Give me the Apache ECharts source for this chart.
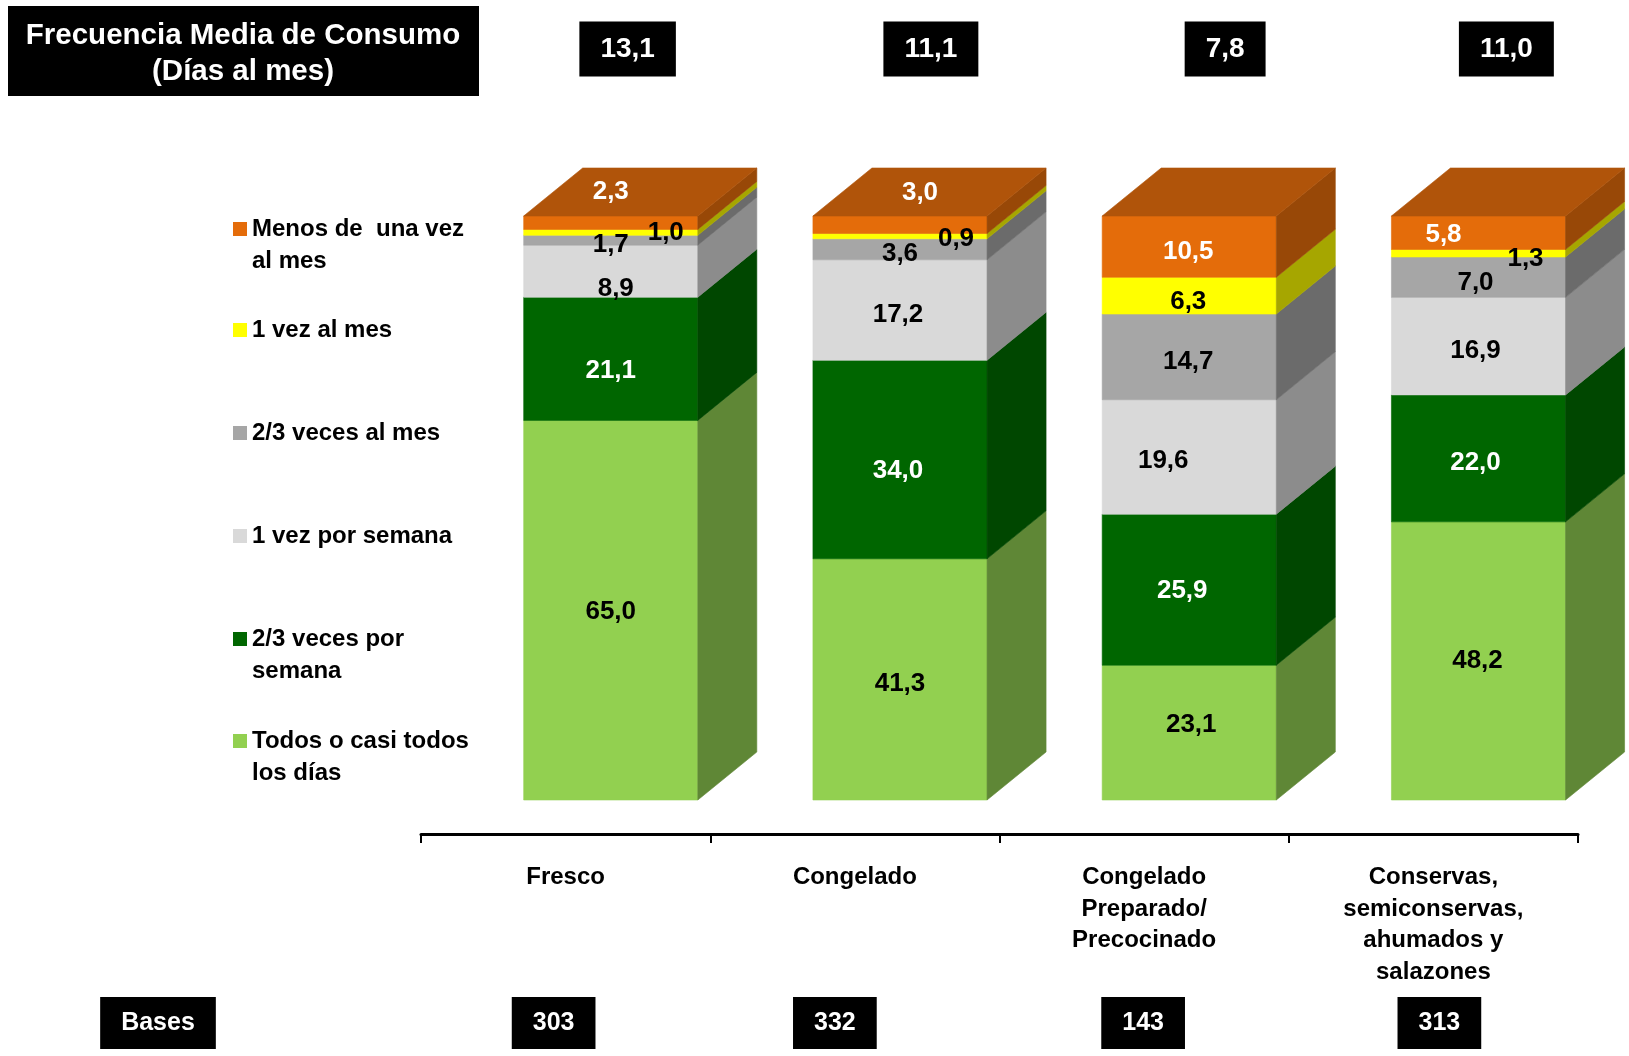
<!DOCTYPE html>
<html><head><meta charset="utf-8">
<script src="https://cdn.jsdelivr.net/npm/echarts@6/dist/echarts.min.js"></script>
<style>html,body{margin:0;padding:0;background:#fff}#c{width:1629px;height:1056px}</style>
</head><body><div id="c"></div>
<script>
// ---------- data ----------
const categories = ['Fresco', 'Congelado', 'Congelado\nPreparado/\nPrecocinado', 'Conservas,\nsemiconservas,\nahumados y\nsalazones'];
const seriesNames = ['Todos o casi todos los días', '2/3 veces por semana', '1 vez por semana', '2/3 veces al mes', '1 vez al mes', 'Menos de una vez al mes'];
const legendTexts = ['Todos o casi todos\nlos días', '2/3 veces por\nsemana', '1 vez por semana', '2/3 veces al mes', '1 vez al mes', 'Menos de  una vez\nal mes'];
const todos      = [65.0, 41.3, 23.1, 48.2];
const semana23   = [21.1, 34.0, 25.9, 22.0];
const semana1    = [8.9, 17.2, 19.6, 16.9];
const mes23      = [1.7, 3.6, 14.7, 7.0];
const mes1       = [1.0, 0.9, 6.3, 1.3];
const menos      = [2.3, 3.0, 10.5, 5.8];
const frecuencia = ['13,1', '11,1', '7,8', '11,0'];
const basesVals  = ['303', '332', '143', '313'];

// ---------- styles ----------
const FONT = "'Liberation Sans', Arial, sans-serif";
const frontC = ['#92D050', '#006600', '#D9D9D9', '#A6A6A6', '#FFFF00', '#E46C0A'];
const sideC  = ['#5F8736', '#004700', '#8C8C8C', '#6B6B6B', '#A6A600', '#984807'];
const topC   = '#B0540A';
const labelWhite = [false, true, false, false, false, true];
// label nudges [dx, dy] in px relative to segment front centre, per series, per category
const labelNudge = [
  [[0, 2], [0, 4], [2, -8], [-1, 0]],
  [[0, 12], [-2, 11], [-7, 1], [-3, 4]],
  [[5, 18], [-2, 5], [-26, 4], [-3, 5]],
  [[0, 5], [0, 5], [-1, 5], [-3, 6]],
  [[55, 0], [56, 3], [-1, 6], [47, 6]],
  [[0, -31], [20, -32], [-1, 5], [-35, 2]]
];
const legendCenterY = [741, 639, 536, 433, 330, 229];
const freqNudge = [62, 76, 81, 73];
const basesNudge = [-12, -20, -1, 6];

const stacks = [todos, semana23, semana1, mes23, mes1, menos];
const totals = categories.map((_, i) => stacks.reduce((a, s) => a + s[i], 0));
function segData(si) {
  return categories.map((_, i) => {
    let start = 0;
    for (let k = 0; k < si; k++) start += stacks[k][i];
    return [i, start / totals[i] * 100, (start + stacks[si][i]) / totals[i] * 100, stacks[si][i], si];
  });
}
function geom(api) {
  const i = api.value(0);
  const band = api.size([1, 0])[0];
  const p0 = api.coord([i, api.value(1)]);
  const p1 = api.coord([i, api.value(2)]);
  const xl = p0[0] - band * 0.145;
  const xr = xl + band * 0.602;
  return { xl, xr, yb: p0[1], yt: p1[1], dx: band * 0.204, dy: 48 };
}

const series = stacks.map((vals, si) => ({
  type: 'custom',
  name: seriesNames[si],
  z: 2 + si,
  itemStyle: { color: frontC[si] },
  data: segData(si),
  renderItem: function (params, api) {
    const g = geom(api);
    const children = [
      { type: 'rect', shape: { x: g.xl, y: g.yt, width: g.xr - g.xl, height: g.yb - g.yt },
        style: { fill: frontC[si], stroke: frontC[si], lineWidth: 0.6 } },
      { type: 'polygon', shape: { points: [[g.xr, g.yb], [g.xr, g.yt], [g.xr + g.dx, g.yt - g.dy], [g.xr + g.dx, g.yb - g.dy]] },
        style: { fill: sideC[si], stroke: sideC[si], lineWidth: 0.6 } }
    ];
    if (si === stacks.length - 1) {
      children.push({ type: 'polygon', shape: { points: [[g.xl, g.yt], [g.xl + g.dx, g.yt - g.dy], [g.xr + g.dx, g.yt - g.dy], [g.xr, g.yt]] },
        style: { fill: topC, stroke: topC, lineWidth: 0.6 } });
    }
    return { type: 'group', children };
  }
}));

// label series (drawn on top)
const labelData = [];
stacks.forEach((_, si) => segData(si).forEach(d => labelData.push(d)));
series.push({
  type: 'custom',
  name: 'labels',
  z: 20,
  silent: true,
  data: labelData,
  renderItem: function (params, api) {
    const g = geom(api);
    const si = api.value(4), i = api.value(0);
    const n = labelNudge[si][i];
    const v = api.value(3);
    return {
      type: 'text',
      style: {
        x: (g.xl + g.xr) / 2 + n[0], y: (g.yb + g.yt) / 2 + n[1],
        text: v.toFixed(1).replace('.', ','),
        align: 'center', verticalAlign: 'middle',
        font: 'bold 26px ' + FONT,
        fill: labelWhite[si] ? '#fff' : '#000'
      }
    };
  }
});

const legends = seriesNames.map((n, si) => {
  const two = legendTexts[si].indexOf('\n') >= 0;
  return {
    data: [n], left: 233, top: legendCenterY[si] - (two ? 48 : 16),
    orient: 'vertical', padding: 0, itemWidth: 14, itemHeight: 14, icon: 'rect',
    selectedMode: false,
    formatter: () => (two ? '\n' : '') + legendTexts[si],
    textStyle: { fontSize: 24, fontWeight: 'bold', color: '#000', fontFamily: FONT, lineHeight: 32 }
  };
});

const chart = echarts.init(document.getElementById('c'), null, { renderer: 'canvas' });
chart.setOption({
  animation: false,
  backgroundColor: '#fff',
  grid: { left: 421, right: 51, top: 216, bottom: 256 },
  legend: legends,
  xAxis: {
    type: 'category', data: categories, offset: 34,
    axisLine: { onZero: false, lineStyle: { color: '#000', width: 3 } },
    axisTick: { show: true, length: 9, lineStyle: { color: '#000', width: 2 } },
    axisLabel: { margin: 28, fontSize: 24, fontWeight: 'bold', color: '#000', fontFamily: FONT, lineHeight: 31.5 },
    splitLine: { show: false }
  },
  yAxis: { type: 'value', min: 0, max: 100, show: false },
  series: series
});

// annotations: title box, frequency boxes, bases
const graphics = [
  { type: 'rect', shape: { x: 8, y: 6, width: 471, height: 90 }, style: { fill: '#000' } },
  { type: 'text', style: { x: 243, y: 54, text: 'Frecuencia Media de Consumo\n(Días al mes)', align: 'center', verticalAlign: 'middle',
      font: 'bold 29.5px ' + FONT, lineHeight: 36, fill: '#fff' } },
  { type: 'text', style: { x: 158, y: 1023, text: 'Bases', align: 'center', verticalAlign: 'middle',
      font: 'bold 25px ' + FONT, lineHeight: 26, fill: '#fff', backgroundColor: '#000', padding: [13, 21] } }
];
categories.forEach((c, i) => {
  const x = chart.convertToPixel({ xAxisIndex: 0 }, i);
  graphics.push({ type: 'text', style: { x: x + freqNudge[i], y: 49, text: frecuencia[i], align: 'center', verticalAlign: 'middle',
      font: 'bold 28px ' + FONT, lineHeight: 29, fill: '#fff', backgroundColor: '#000', padding: [13, 21] } });
  graphics.push({ type: 'text', style: { x: x + basesNudge[i], y: 1023, text: basesVals[i], align: 'center', verticalAlign: 'middle',
      font: 'bold 25px ' + FONT, lineHeight: 26, fill: '#fff', backgroundColor: '#000', padding: [13, 21] } });
});
chart.setOption({ graphic: graphics });
</script></body></html>
